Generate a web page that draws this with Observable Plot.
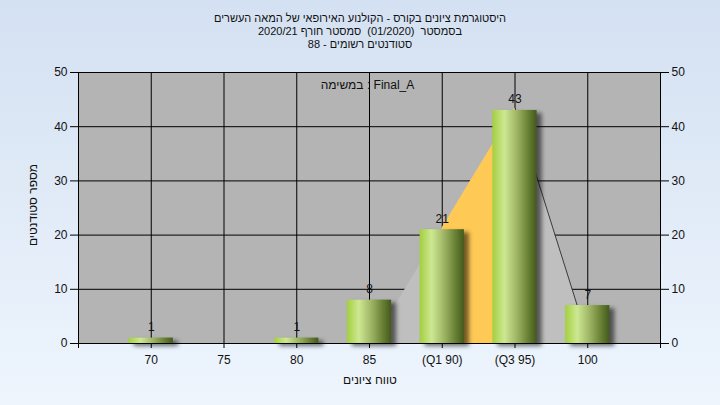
<!DOCTYPE html>
<html>
<head>
<meta charset="utf-8">
<script src="https://cdn.jsdelivr.net/npm/d3@7"></script>
<script src="https://cdn.jsdelivr.net/npm/@observablehq/plot@0.6"></script>
<style>
  html, body { margin: 0; padding: 0; }
  body {
    width: 720px; height: 405px; position: relative; overflow: hidden;
    background: linear-gradient(to bottom, #d4e1f2 0%, #eef5fd 100%);
    font-family: "Liberation Sans", Arial, "DejaVu Sans", sans-serif;
    color: #111;
  }
  #title {
    position: absolute; left: 0; top: 12px; width: 720px; text-align: center;
    direction: rtl; font-size: 11px; line-height: 13px; color: #111;
  }
  #chart { position: absolute; left: 0; top: 0; }
  .lbl { position: absolute; font-size: 12px; color: #111; white-space: nowrap; }
</style>
</head>
<body>
<div id="title">
  <div>היסטוגרמת ציונים בקורס - הקולנוע האירופאי של המאה העשרים</div>
  <div>בסמסטר&nbsp; (01/2020)&nbsp; סמסטר חורף 2020/21</div>
  <div>סטודנטים רשומים - 88</div>
</div>
<div id="chart"></div>
<div class="lbl" id="task" style="left:300px; top:78px; width:135px; text-align:center; direction:ltr; unicode-bidi: isolate;">במשימה : Final_A</div>
<div class="lbl" id="xlabel" style="left:300px; top:373px; width:140px; text-align:center; direction:rtl;">טווח ציונים</div>
<div class="lbl" id="ylabel" style="left:-17px; top:198px; width:100px; text-align:center; direction:rtl; transform: rotate(-90deg);">מספר סטודנטים</div>
<script>
// ---- data ----
const grades = [70, 75, 80, 85, 90, 95, 100];
const counts = [1, 0, 1, 8, 21, 43, 7];
const tickLabels = ["70", "75", "80", "85", "(Q1 90)", "(Q3 95)", "100"];
const yTicks = [0, 10, 20, 30, 40, 50];
const xTicks = [65, 70, 75, 80, 85, 90, 95, 100, 105];
// background triangle (distribution outline) and inter-quartile part
const triangleX = [85.2, 95, 100.1];
const triangleY = [0, 43.5, 0];
const iqrX = [90, 95];
const iqrY = [21.3, 43.5];
const edgeX = [95, 100.1];
const edgeY = [43.5, 0];

const bars = grades.map((g, i) => ({grade: g, count: counts[i]})).filter(d => d.count > 0);
const tri = triangleX.map((x, i) => ({x, y: triangleY[i]}));
const iqr = iqrX.map((x, i) => ({x, y: iqrY[i]}));
const edge = edgeX.map((x, i) => ({x, y: edgeY[i]}));
const labelOf = new Map(grades.map((g, i) => [g, tickLabels[i]]));
const halfWidth = 1.52;

const font = '"Liberation Sans", Arial, "DejaVu Sans", sans-serif';

const chart = Plot.plot({
  width: 720,
  height: 405,
  marginLeft: 78,
  marginRight: 60,
  marginTop: 72,
  marginBottom: 62,
  style: {background: "transparent", fontFamily: font, fontSize: "12px", color: "#111"},
  x: {type: "linear", domain: [65, 105]},
  y: {domain: [0, 50]},
  marks: [
    Plot.frame({fill: "#b4b4b4"}),
    Plot.ruleX(grades, {stroke: "#000", strokeWidth: 1}),
    Plot.ruleY(yTicks, {stroke: "#000", strokeWidth: 1}),
    Plot.areaY(tri, {x: "x", y: "y", fill: "#bfbfbf", curve: "linear"}),
    Plot.areaY(iqr, {x: "x", y: "y", fill: "#ffc955", curve: "linear"}),
    Plot.line(edge, {x: "x", y: "y", stroke: "#3c3c3c", strokeWidth: 1}),
    Plot.rectY(bars, {x1: d => d.grade - halfWidth, x2: d => d.grade + halfWidth, y1: 0, y2: "count", fill: "url(#barGrad)"}),
    Plot.text(bars, {x: "grade", y: "count", text: d => String(d.count), lineAnchor: "bottom", dy: -7, fill: "#111", fontSize: 12}),
    Plot.frame({stroke: "#000", strokeWidth: 1}),
    Plot.axisY(yTicks, {anchor: "left", tickSize: 8, tickPadding: 3, label: null, fontSize: 12, stroke: "#000"}),
    Plot.axisY(yTicks, {anchor: "right", tickSize: 8, tickPadding: 3, label: null, fontSize: 12, stroke: "#000"}),
    Plot.axisX(xTicks, {anchor: "bottom", tickSize: 5, tickPadding: 7, label: null, fontSize: 12, stroke: "#000",
      tickFormat: d => labelOf.get(d) ?? ""})
  ]
});

// gradient definition for the bars
const svg = d3.select(chart);
const defs = svg.insert("defs", ":first-child");
const grad = defs.append("linearGradient").attr("id", "barGrad")
  .attr("x1", "0").attr("x2", "1").attr("y1", "0").attr("y2", "0");
[["0%", "#a3cf3e"], ["27%", "#cde892"], ["55%", "#9fb566"], ["80%", "#6a8235"], ["100%", "#44591c"]]
  .forEach(([o, c]) => grad.append("stop").attr("offset", o).attr("stop-color", c));
svg.selectAll('g[aria-label="rect"]').style("filter", "drop-shadow(5px 3px 2px rgba(0,0,0,0.55))");

document.getElementById("chart").appendChild(chart);
</script>
</body>
</html>
